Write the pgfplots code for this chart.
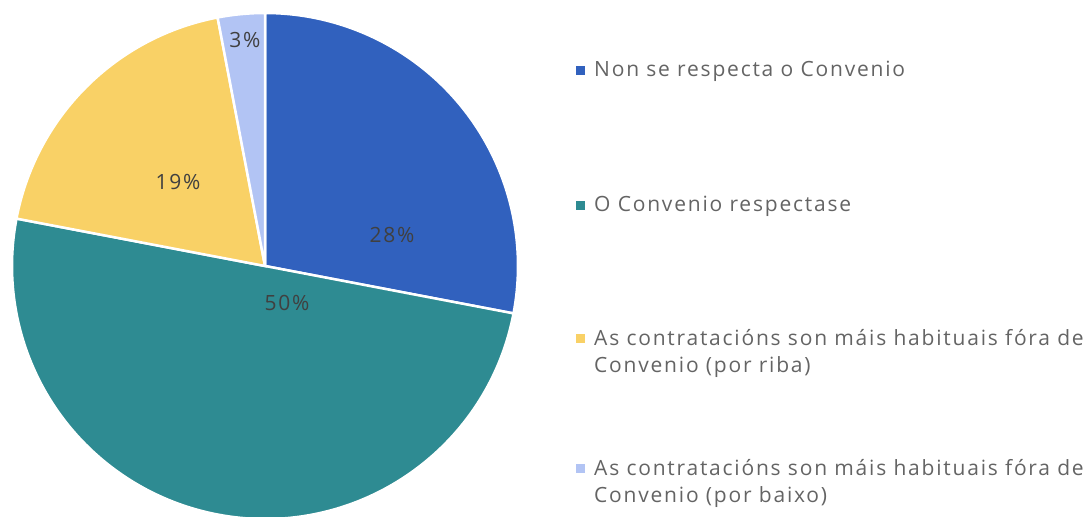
\documentclass[border=0pt]{standalone}
\usepackage{pgfplots}
\pgfplotsset{compat=1.18}
\usepackage{pgfplotstable}
\usepackage{fontspec}
\setmainfont{Open Sans}[LetterSpace=8.5]
\definecolor{cA}{HTML}{3161BE}
\definecolor{cB}{HTML}{2E8B92}
\definecolor{cC}{HTML}{F9D166}
\definecolor{cD}{HTML}{B2C4F4}
\definecolor{txt}{HTML}{646464}
\definecolor{lab}{HTML}{404040}
\pgfplotstableread{
idx value
0 28
1 50
2 19
3 3
}\piedata
\pgfplotstablegetelem{0}{value}\of\piedata \let\va\pgfplotsretval
\pgfplotstablegetelem{1}{value}\of\piedata \let\vb\pgfplotsretval
\pgfplotstablegetelem{2}{value}\of\piedata \let\vc\pgfplotsretval
\pgfplotstablegetelem{3}{value}\of\piedata \let\vd\pgfplotsretval
\pgfmathsetmacro\aA{90}
\pgfmathsetmacro\aB{90-3.6*\va}
\pgfmathsetmacro\aC{\aB-3.6*\vb}
\pgfmathsetmacro\aD{\aC-3.6*\vc}
\pgfmathsetmacro\aE{\aD-3.6*\vd}
\begin{document}
\begin{tikzpicture}
\begin{axis}[
  name=main,
  x=1pt, y=1pt,
  xmin=0, xmax=1085, ymin=0, ymax=517,
  axis lines=none,
  clip=true,
  scale only axis,
]
\def\R{253pt}
\begin{scope}
\clip (axis cs:0,0) rectangle (axis cs:1085,517);
\fill[cA, draw=white, line width=2.5pt] (axis cs:265,251) -- ++(\aA:\R) arc[start angle=\aA, end angle=\aB, radius=\R] -- cycle;
\fill[cB, draw=white, line width=2.5pt] (axis cs:265,251) -- ++(\aB:\R) arc[start angle=\aB, end angle=\aC, radius=\R] -- cycle;
\fill[cC, draw=white, line width=2.5pt] (axis cs:265,251) -- ++(\aC:\R) arc[start angle=\aC, end angle=\aD, radius=\R] -- cycle;
\fill[cD, draw=white, line width=2.5pt] (axis cs:265,251) -- ++(\aD:\R) arc[start angle=\aD, end angle=\aE, radius=\R] -- cycle;
\end{scope}
\begin{scope}[font=\fontsize{21}{26}\selectfont, text=lab]
\node at (axis cs:392,282) {28\%};
\node at (axis cs:287,214) {50\%};
\node at (axis cs:178,335) {19\%};
\node at (axis cs:245,477) {3\%};
\end{scope}
\begin{scope}[font=\fontsize{21}{27}\selectfont, text=txt]
\fill[cA] (axis cs:575.5,441.5) rectangle (axis cs:584.5,450.5);
\fill[cB] (axis cs:575.5,306.5) rectangle (axis cs:584.5,315.5);
\fill[cC] (axis cs:575.5,173.5) rectangle (axis cs:584.5,182.5);
\fill[cD] (axis cs:575.5,43.5) rectangle (axis cs:584.5,52.5);
\node[anchor=west, inner sep=0pt] at (axis cs:594,446) {Non se respecta o Convenio};
\node[anchor=west, inner sep=0pt] at (axis cs:594,311) {O Convenio respectase};
\node[anchor=west, inner sep=0pt, align=left] at (axis cs:594,164) {As contratacións son máis habituais fóra de\\Convenio (por riba)};
\node[anchor=west, inner sep=0pt, align=left] at (axis cs:594,34) {As contratacións son máis habituais fóra de\\Convenio (por baixo)};
\end{scope}
\end{axis}
\pgfresetboundingbox
\path[use as bounding box] (main.south west) rectangle (main.north east);
\end{tikzpicture}
\end{document}
